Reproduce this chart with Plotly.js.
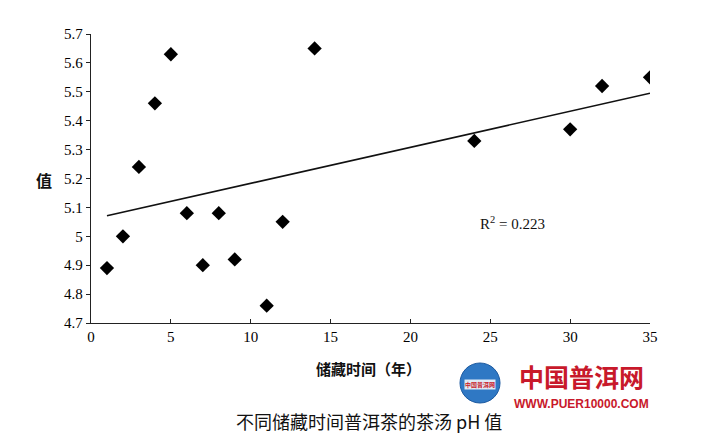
<!DOCTYPE html>
<html>
<head>
<meta charset="utf-8">
<script src="https://cdn.plot.ly/plotly-3.0.1.min.js"></script>
<style>html,body{margin:0;padding:0;background:#fff;}#chart{width:713px;height:434px;}</style>
</head>
<body>
<div id="chart"></div>
<script>
// Storage time (years) and tea-soup pH values
const years = [1, 2, 3, 4, 5, 6, 7, 8, 9, 11, 12, 14, 24, 30, 32, 35];
const phValues = [4.89, 5.00, 5.24, 5.46, 5.63, 5.08, 4.90, 5.08, 4.92, 4.76, 5.05, 5.65, 5.33, 5.37, 5.52, 5.55];
// Linear trend line end points
const trendX = [1, 35];
const trendY = [5.071, 5.495];
const yTickVals = [4.7, 4.8, 4.9, 5.0, 5.1, 5.2, 5.3, 5.4, 5.5, 5.6, 5.7];
const yTickText = ['4.7', '4.8', '4.9', '5', '5.1', '5.2', '5.3', '5.4', '5.5', '5.6', '5.7'];
const xTickVals = [0, 5, 10, 15, 20, 25, 30, 35];
const r2Text = 'R<sup>2</sup> = 0.223';
const yTitle = '值';
const xTitle = '储藏时间（年）';
const caption = '不同储藏时间普洱茶的茶汤 pH 值';
const logoText = '中国普洱网';
const logoUrl = 'WWW.PUER10000.COM';

const serif = 'Liberation Serif, Times New Roman, serif';
const cjk = 'Noto Sans CJK SC, sans-serif';
const red = '#c8192b';

const traces = [
  {
    x: trendX, y: trendY, type: 'scatter', mode: 'lines',
    line: {color: '#111', width: 1.6}, hoverinfo: 'skip', showlegend: false
  },
  {
    x: years, y: phValues, type: 'scatter', mode: 'markers',
    marker: {symbol: 'diamond', size: 11, color: '#000'}, showlegend: false
  }
];

const ann = (x, y, text, font, extra) => Object.assign(
  {xref: 'paper', yref: 'paper', x: x, y: y, xanchor: 'center', yanchor: 'middle',
   text: text, showarrow: false, font: font}, extra || {});

const layout = {
  width: 713, height: 434,
  margin: {l: 91, r: 63, t: 34, b: 111},
  paper_bgcolor: '#fff', plot_bgcolor: '#fff',
  showlegend: false,
  xaxis: {
    range: [0, 35], tickvals: xTickVals, showgrid: false, zeroline: false,
    showline: true, linecolor: '#222', linewidth: 1.2,
    ticks: 'inside', ticklen: 4, tickcolor: '#222',
    tickfont: {family: serif, size: 15, color: '#000'}
  },
  yaxis: {
    range: [4.7, 5.7], tickvals: yTickVals, ticktext: yTickText, showgrid: false, zeroline: false,
    showline: true, linecolor: '#222', linewidth: 1.2,
    ticks: 'outside', ticklen: 4, tickcolor: '#222',
    tickfont: {family: serif, size: 15, color: '#000'}
  },
  annotations: [
    ann(-0.084, 0.495, '<b>' + yTitle + '</b>', {family: cjk, size: 16, color: '#111'}),
    ann(0.497, -0.156, '<b>' + xTitle + '</b>', {family: cjk, size: 15, color: '#111'}),
    {xref: 'x', yref: 'y', x: 24.2, y: 5.046, xanchor: 'left', yanchor: 'middle', text: r2Text, showarrow: false,
     font: {family: serif, size: 15, color: '#111'}},
    ann(0.497, -0.338, caption, {family: cjk, size: 18, color: '#111'}),
    ann(0.877, -0.185, '<b>' + logoText + '</b>', {family: cjk, size: 25, color: red}, {borderpad: 0}),
    ann(0.877, -0.28, '<b>' + logoUrl + '</b>', {family: 'Liberation Sans, Arial, sans-serif', size: 12, color: red}, {borderpad: 0}),
    ann((480 - 91) / 559, (323 - 384) / 289, '<b>' + logoText + '</b>', {family: cjk, size: 6, color: red},
        {bgcolor: 'rgba(255,255,255,0.85)', borderpad: 0})
  ],
  shapes: [
    {type: 'circle', xref: 'paper', yref: 'paper', layer: 'below',
     x0: (460 - 91) / 559, x1: (500 - 91) / 559, y0: (323 - 403) / 289, y1: (323 - 363) / 289,
     fillcolor: '#2f78c4', line: {color: '#1d5aa0', width: 1}}
  ]
};

Plotly.newPlot('chart', traces, layout, {displayModeBar: false, staticPlot: true});
</script>
</body>
</html>
